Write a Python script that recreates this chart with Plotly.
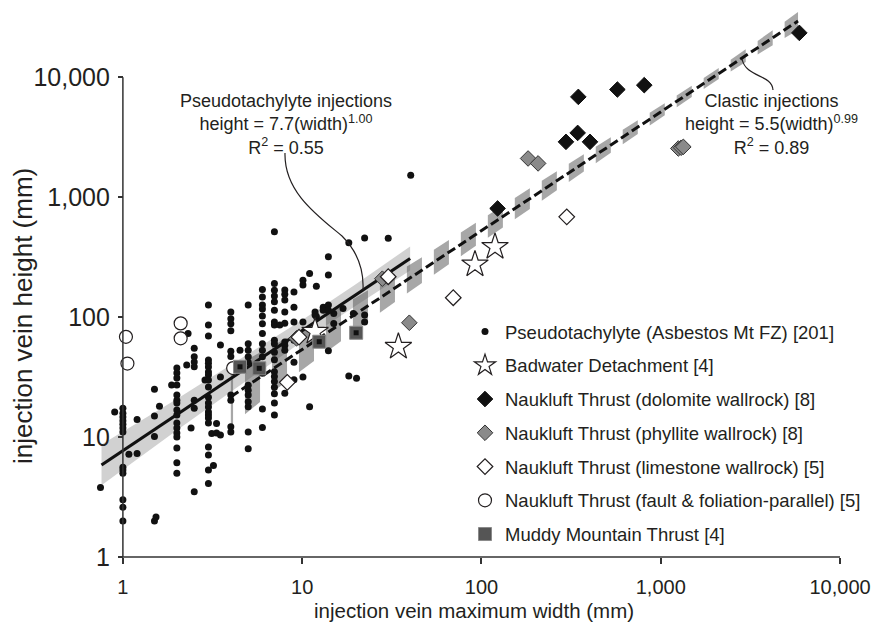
import numpy as np
import plotly.graph_objects as go

# ---------------- data ----------------
# Pseudotachylyte (Asbestos Mt FZ): width (mm) -> heights (mm)
pt_cols = {
    0.75: [3.8],
    0.9: [16.2],
    1.0: [17.4, 15.8, 14.7, 13.7, 12.8, 11.9, 11.0, 5.6, 5.3, 5.0, 3.0, 2.6, 2.0],
    1.08: [7.2],
    1.2: [7.3, 14.0],
    1.5: [25.0, 15.0, 10.1, 2.0],
    1.53: [2.15],
    1.6: [18.1],
    1.87: [27.1],
    2.0: [37.6, 34.2, 31.1, 27.1, 22.4, 20.3, 19.2, 16.8, 15.3, 13.1, 11.9, 10.8, 10.0, 8.1, 6.1, 5.0],
    2.27: [39.8],
    2.31: [73],
    2.4: [11.9],
    2.5: [55, 46.6, 42.2, 38.5, 20.3, 17.4, 3.5],
    2.87: [29.9],
    3.0: [126, 86, 69.5, 43.8, 41.2, 38.4, 34.9, 32.9, 29.9, 26.1, 21.5, 19.2, 17.8, 16.2, 15.3,
          14.4, 13.1, 8.25, 7.07, 5.3, 4.1],
    3.13: [10.7],
    3.2: [5.8],
    3.33: [13.0, 10.8],
    3.5: [58.5, 31.7, 10.4],
    4.0: [110, 97, 88, 77, 52, 47, 22.4, 20.3, 12.2, 11.0],
    4.5: [53],
    5.0: [126, 60, 53, 46.6, 42, 27, 24.6, 22.4, 19.7, 17.9, 11.0, 8.0],
    6.0: [170, 147, 126, 117, 102, 88, 73, 60, 53, 46.6, 38.5, 34, 17.1, 12.0],
    7.0: [514, 191, 167, 150, 134, 114, 91, 86, 64, 60, 51, 44, 35, 32, 29, 26, 23, 19.2, 15.3],
    7.5: [86],
    8.0: [168, 155, 139, 110, 89, 62, 58, 53, 23.2],
    9.0: [162, 121, 91, 64, 42, 30],
    10.1: [203, 185, 91, 31.6],
    11.0: [231, 17.9],
    11.8: [110, 104],
    12.0: [181, 101],
    13.1: [121, 114],
    14.0: [318, 224, 126, 52.4, 114],
    15.0: [107, 88.6],
    16.9: [118],
    18.2: [416, 32.3],
    19.3: [107],
    20.1: [30.9],
    22.3: [457, 91, 104],
    30.2: [455],
    40.3: [1525],
}
pt_w = [w for w, hs in pt_cols.items() for _ in hs]
pt_h = [h for hs in pt_cols.values() for h in hs]

badwater_w = [11.8, 34.4, 92, 119]
badwater_h = [75.5, 56.6, 275, 385]
dolomite_w = [123, 296, 344, 347, 403, 573, 809, 5930]
dolomite_h = [805, 2890, 3430, 6850, 2890, 7890, 8580, 23400]
phyllite_w = [9.3, 28, 39.6, 182, 207, 1253, 1300, 1336]
phyllite_h = [66.5, 209, 89.7, 2100, 1910, 2545, 2580, 2625]
limestone_w = [8.26, 9.6, 30.2, 69.6, 299]
limestone_h = [28.6, 68, 217, 145, 685]
parallel_w = [1.04, 1.06, 2.1, 2.1, 4.12]
parallel_h = [68.5, 41, 88.6, 66.5, 37.6]
muddy_w = [4.5, 5.76, 12.45, 20]
muddy_h = [38.5, 37.4, 62.3, 74]

# regression lines and their bands
pt_fit_w = [0.76, 40]
pt_fit_h = [5.85, 308]
pt_band_w = [0.76, 2, 5, 10, 20, 40]
pt_band_lo = [3.96, 11.4, 30.2, 62.6, 125, 245]
pt_band_hi = [8.66, 20.8, 49.0, 94.7, 189, 388]

cl_fit_w = [4.0, 5830]
cl_fit_h = [21.7, 29400]
cl_band_w = [4.0, 5, 7, 10, 15, 20, 30, 50, 100, 200, 400, 1000, 2000, 4000, 5830]
cl_band_lo = [12.49, 16.31, 24.38, 36.35, 56.83, 78.23, 120.9, 207.7, 422.1, 857.9, 1764, 4575,
              9192, 17640, 24760]
cl_band_hi = [37.71, 44.92, 58.48, 79.50, 113.4, 145.7, 210.2, 336.8, 653.8, 1269, 2434, 5759,
              11310, 23250, 34980]

tick_vals = [1, 10, 100, 1000, 10000]
tick_text = ["1", "10", "100", "1,000", "10,000"]

# ---------------- layout geometry ----------------
W, H = 873, 622
ML, MR, MT, MB = 96, 24, 10, 65
XR = [-0.15, 4.05]
YR = [0.0, 4.56]
PW, PH = W - ML - MR, H - MT - MB


def px2paper(px, py):
    return (px - ML) / PW, (H - MB - py) / PH


def lx2paper(lx):
    return (lx - XR[0]) / (XR[1] - XR[0])


def ly2paper(ly):
    return (ly - YR[0]) / (YR[1] - YR[0])


FONT = "Liberation Sans, Arial, Helvetica, sans-serif"
INK = "#231f20"

fig = go.Figure()

# pseudotachylyte band (solid light gray)
fig.add_trace(go.Scatter(
    x=pt_band_w + pt_band_w[::-1], y=pt_band_lo + pt_band_hi[::-1],
    fill="toself", fillcolor="rgba(140,140,140,0.40)", line=dict(width=0),
    mode="lines", hoverinfo="skip", showlegend=False))

# clastic band drawn as dashes (style of the reference)
lw = np.log10(cl_band_w)
llo = np.log10(cl_band_lo)
lhi = np.log10(cl_band_hi)
phase, period, on = 1.584, 0.1505, 0.084
bx, by = [], []
k = np.floor((lw[0] - phase) / period)
while phase + k * period < lw[-1]:
    a = max(phase + k * period, lw[0])
    b = min(phase + k * period + on, lw[-1])
    if b > a:
        xs = np.linspace(a, b, 4)
        lo = np.interp(xs, lw, llo)
        hi = np.interp(xs, lw, lhi)
        bx += list(10 ** xs) + list(10 ** xs[::-1]) + [None]
        by += list(10 ** lo) + list(10 ** hi[::-1]) + [None]
    k += 1
fig.add_trace(go.Scatter(
    x=bx, y=by, fill="toself", fillcolor="rgba(80,80,80,0.5)", line=dict(width=0),
    mode="lines", hoverinfo="skip", showlegend=False))

# pseudotachylyte points
fig.add_trace(go.Scatter(
    x=pt_w, y=pt_h, mode="markers", name="Pseudotachylyte (Asbestos Mt FZ) [201]",
    marker=dict(symbol="circle", size=7, color="#111111", line=dict(width=0)),
    legendgroup="g1", legendrank=1))

# regression lines
fig.add_trace(go.Scatter(x=pt_fit_w, y=pt_fit_h, mode="lines",
                         line=dict(color="#111111", width=3.2), showlegend=False, hoverinfo="skip"))
fig.add_trace(go.Scatter(x=cl_fit_w, y=cl_fit_h, mode="lines",
                         line=dict(color="#111111", width=3, dash="9px,4px"),
                         showlegend=False, hoverinfo="skip"))

# other series
fig.add_trace(go.Scatter(
    x=badwater_w, y=badwater_h, mode="markers", name="Badwater Detachment [4]",
    marker=dict(symbol="star", size=20, color="white", line=dict(color=INK, width=1.2)),
    legendgroup="g2", legendrank=2))
fig.add_trace(go.Scatter(
    x=dolomite_w, y=dolomite_h, mode="markers", name="Naukluft Thrust (dolomite wallrock) [8]",
    marker=dict(symbol="diamond", size=12, color="#111111", line=dict(color="#111111", width=1)),
    legendgroup="g3", legendrank=3))
fig.add_trace(go.Scatter(
    x=phyllite_w, y=phyllite_h, mode="markers", name="Naukluft Thrust (phyllite wallrock) [8]",
    marker=dict(symbol="diamond", size=12, color="#8a8a8a", line=dict(color="#333333", width=1)),
    legendgroup="g4", legendrank=4))
fig.add_trace(go.Scatter(
    x=limestone_w, y=limestone_h, mode="markers", name="Naukluft Thrust (limestone wallrock) [5]",
    marker=dict(symbol="diamond", size=12, color="white", line=dict(color=INK, width=1.2)),
    legendgroup="g5", legendrank=5))
fig.add_trace(go.Scatter(
    x=parallel_w, y=parallel_h, mode="markers",
    name="Naukluft Thrust (fault & foliation-parallel) [5]",
    marker=dict(symbol="circle", size=13, color="white", line=dict(color=INK, width=1.2)),
    legendgroup="g6", legendrank=6))
fig.add_trace(go.Scatter(
    x=muddy_w, y=muddy_h, mode="markers", name="Muddy Mountain Thrust [4]",
    marker=dict(symbol="square", size=13, color="#555555", line=dict(color="#8a8a8a", width=1)),
    legendgroup="g7", legendrank=7))
fig.add_trace(go.Scatter(
    x=muddy_w, y=muddy_h, mode="markers", showlegend=False, hoverinfo="skip",
    marker=dict(symbol="square", size=5, color="#111111", line=dict(width=0)),
    legendgroup="g7"))

# axis lines (span 1..10,000 only, as in the reference)
xa = lx2paper(0)
shapes = [
    dict(type="line", xref="paper", yref="paper", x0=xa, x1=xa, y0=ly2paper(0), y1=ly2paper(4),
         line=dict(color="#333333", width=1.5)),
    dict(type="line", xref="paper", yref="paper", x0=xa, x1=lx2paper(4), y0=0, y1=0,
         line=dict(color="#333333", width=1.5)),
]


def path_px(pts):
    cmds = []
    for c, coords in pts:
        s = " ".join("%.5f,%.5f" % px2paper(px, py) for px, py in coords)
        cmds.append(c + s)
    return " ".join(cmds)


leader1 = path_px([("M", [(285, 153)]),
                   ("C", [(284, 192), (318, 216), (342, 236)]),
                   ("C", [(358, 252), (364, 270), (363, 290)])])
leader2 = path_px([("M", [(742, 59)]),
                   ("C", [(746, 78), (772, 74), (773, 90)])])
for p in (leader1, leader2):
    shapes.append(dict(type="path", xref="paper", yref="paper", path=p,
                       line=dict(color=INK, width=1.2)))

ann = []
x1p, y1p = px2paper(285.5, 124)
ann.append(dict(xref="paper", yref="paper", x=x1p, y=y1p, xanchor="center", yanchor="middle",
                showarrow=False, align="center",
                text="Pseudotachylyte injections<br>height = 7.7(width)<sup>1.00</sup><br>R<sup>2</sup> = 0.55",
                font=dict(family=FONT, size=18, color=INK)))
x2p, y2p = px2paper(771, 124)
ann.append(dict(xref="paper", yref="paper", x=x2p, y=y2p, xanchor="center", yanchor="middle",
                showarrow=False, align="center",
                text="Clastic injections<br>height = 5.5(width)<sup>0.99</sup><br>R<sup>2</sup> = 0.89",
                font=dict(family=FONT, size=18, color=INK)))
xt, yt = px2paper(474, 610)
ann.append(dict(xref="paper", yref="paper", x=xt, y=yt, xanchor="center", yanchor="middle",
                showarrow=False, text="injection vein maximum width (mm)",
                font=dict(family=FONT, size=20.5, color=INK)))
xy, yy = px2paper(23, 316)
ann.append(dict(xref="paper", yref="paper", x=xy, y=yy, xanchor="center", yanchor="middle",
                showarrow=False, text="injection vein height (mm)", textangle=-90,
                font=dict(family=FONT, size=26, color=INK)))

lgx, lgy = px2paper(465, 313)

fig.update_layout(
    width=W, height=H, autosize=False,
    margin=dict(l=ML, r=MR, t=MT, b=MB, autoexpand=False),
    paper_bgcolor="white", plot_bgcolor="white",
    font=dict(family=FONT, color=INK),
    shapes=shapes, annotations=ann,
    showlegend=True,
    legend=dict(x=lgx, y=lgy, xanchor="left", yanchor="top", bgcolor="rgba(0,0,0,0)",
                font=dict(family=FONT, size=18.5, color=INK), traceorder="grouped",
                tracegroupgap=6.7, itemsizing="trace"),
    xaxis=dict(type="log", range=XR, showgrid=False, zeroline=False, showline=False,
               automargin=False,
               tickvals=tick_vals, ticktext=tick_text, ticks="outside", ticklen=6,
               tickwidth=1.5, tickcolor="#333333", ticklabelstandoff=6,
               tickfont=dict(family=FONT, size=20, color=INK)),
    yaxis=dict(type="log", range=YR, showgrid=False, zeroline=False, showline=False,
               automargin=False, anchor="free", position=xa,
               tickvals=tick_vals, ticktext=tick_text, ticks="outside", ticklen=5,
               tickwidth=1.5, tickcolor="#333333", ticklabelstandoff=3,
               tickfont=dict(family=FONT, size=25, color=INK)),
)

fig.write_html("out.html", config={"displayModeBar": False},
               post_script="document.body.style.margin='0px';document.body.style.padding='0px';")
